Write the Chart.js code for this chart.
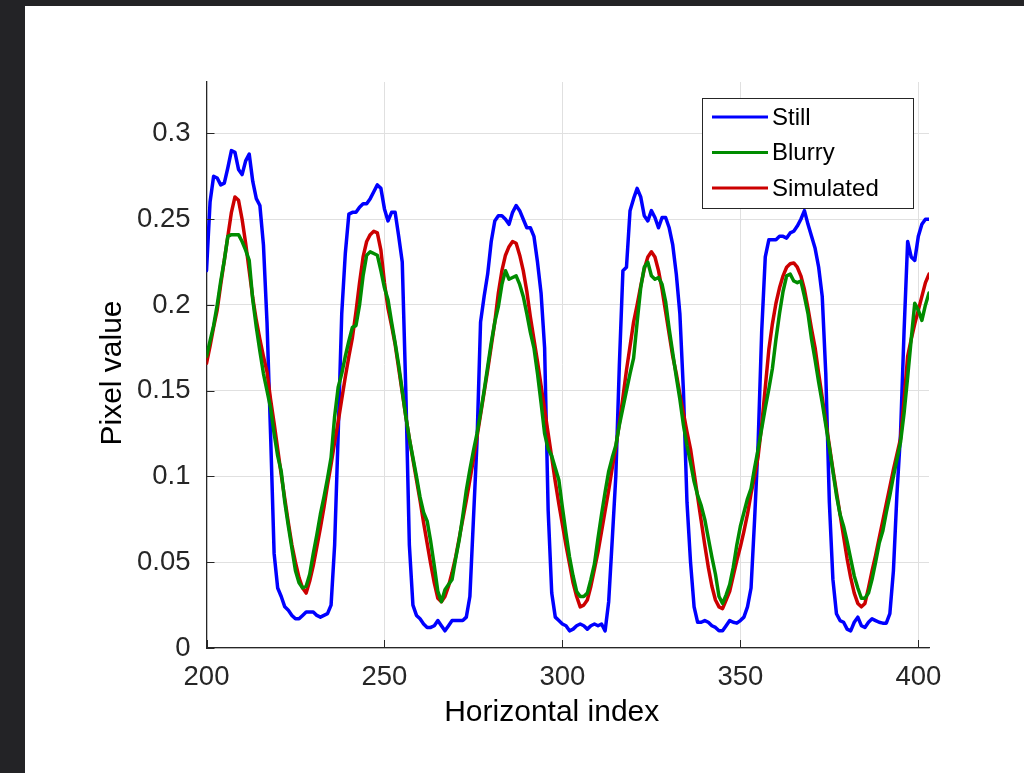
<!DOCTYPE html>
<html>
<head>
<meta charset="utf-8">
<script src="https://cdn.jsdelivr.net/npm/chart.js@4.4.0/dist/chart.umd.min.js"></script>
<style>
  html, body { margin: 0; padding: 0; width: 1024px; height: 773px; overflow: hidden; background: #232326; }
  #sheet { position: absolute; left: 25px; top: 6px; width: 999px; height: 767px; background: #ffffff; }
  canvas { display: block; }
</style>
</head>
<body>
<div id="sheet"><canvas id="profile" width="999" height="767"></canvas></div>
<script>
// Horizontal pixel profile, one sample per column starting at column 200
const xStart = 200;

const still = [
  0.220, 0.260, 0.275, 0.274, 0.270, 0.271, 0.280, 0.290, 0.289, 0.279,
  0.276, 0.284, 0.288, 0.272, 0.262, 0.258, 0.235, 0.190, 0.125, 0.055,
  0.035, 0.030, 0.024, 0.022, 0.019, 0.017, 0.017, 0.019, 0.021, 0.021,
  0.021, 0.019, 0.018, 0.019, 0.020, 0.025, 0.060, 0.125, 0.195, 0.230,
  0.253, 0.254, 0.254, 0.257, 0.259, 0.259, 0.262, 0.266, 0.270, 0.268,
  0.256, 0.249, 0.254, 0.254, 0.240, 0.225, 0.150, 0.060, 0.025, 0.019,
  0.017, 0.014, 0.012, 0.012, 0.013, 0.016, 0.013, 0.010, 0.013, 0.016,
  0.016, 0.016, 0.016, 0.018, 0.030, 0.075, 0.120, 0.190, 0.205, 0.218,
  0.237, 0.249, 0.252, 0.252, 0.250, 0.247, 0.254, 0.258, 0.255, 0.250,
  0.245, 0.245, 0.240, 0.225, 0.207, 0.175, 0.080, 0.032, 0.018, 0.016,
  0.014, 0.013, 0.010, 0.011, 0.013, 0.014, 0.013, 0.011, 0.013, 0.014,
  0.013, 0.014, 0.010, 0.027, 0.063, 0.100, 0.165, 0.220, 0.222, 0.255,
  0.262, 0.268, 0.263, 0.252, 0.249, 0.255, 0.251, 0.245, 0.251, 0.251,
  0.245, 0.235, 0.218, 0.195, 0.150, 0.085, 0.050, 0.024, 0.015, 0.015,
  0.016, 0.015, 0.013, 0.012, 0.010, 0.010, 0.013, 0.016, 0.015, 0.0145,
  0.016, 0.018, 0.024, 0.035, 0.075, 0.120, 0.185, 0.228, 0.238, 0.238,
  0.238, 0.240, 0.240, 0.239, 0.242, 0.243, 0.246, 0.250, 0.255, 0.247,
  0.240, 0.233, 0.222, 0.205, 0.160, 0.085, 0.040, 0.020, 0.016, 0.015,
  0.011, 0.010, 0.015, 0.018, 0.013, 0.012, 0.015, 0.017, 0.016, 0.015,
  0.0145, 0.0145, 0.020, 0.045, 0.090, 0.125, 0.185, 0.237, 0.228, 0.226,
  0.240, 0.247, 0.250, 0.250
];

const blurry = [
  0.170, 0.179, 0.188, 0.200, 0.214, 0.226, 0.240, 0.241, 0.241, 0.241,
  0.237, 0.232, 0.226, 0.203, 0.187, 0.173, 0.160, 0.150, 0.140, 0.125,
  0.112, 0.103, 0.085, 0.071, 0.058, 0.045, 0.038, 0.035, 0.036, 0.043,
  0.055, 0.066, 0.078, 0.088, 0.099, 0.111, 0.135, 0.152, 0.160, 0.170,
  0.179, 0.187, 0.188, 0.200, 0.217, 0.229, 0.231, 0.230, 0.229, 0.220,
  0.210, 0.203, 0.190, 0.178, 0.165, 0.150, 0.135, 0.122, 0.111, 0.100,
  0.088, 0.079, 0.074, 0.062, 0.048, 0.033, 0.027, 0.034, 0.037, 0.040,
  0.052, 0.063, 0.077, 0.092, 0.104, 0.115, 0.125, 0.137, 0.150, 0.164,
  0.178, 0.190, 0.199, 0.212, 0.220, 0.215, 0.216, 0.217, 0.212, 0.205,
  0.195, 0.184, 0.175, 0.160, 0.143, 0.125, 0.116, 0.112, 0.105, 0.098,
  0.082, 0.067, 0.053, 0.042, 0.033, 0.030, 0.030, 0.032, 0.040, 0.049,
  0.064, 0.078, 0.091, 0.103, 0.111, 0.118, 0.130, 0.140, 0.150, 0.160,
  0.169, 0.190, 0.210, 0.222, 0.225, 0.217, 0.215, 0.216, 0.212, 0.202,
  0.186, 0.172, 0.158, 0.145, 0.130, 0.118, 0.108, 0.097, 0.089, 0.083,
  0.075, 0.064, 0.053, 0.043, 0.030, 0.026, 0.031, 0.037, 0.047, 0.060,
  0.071, 0.079, 0.087, 0.093, 0.105, 0.116, 0.128, 0.140, 0.151, 0.163,
  0.180, 0.195, 0.208, 0.217, 0.218, 0.214, 0.213, 0.214, 0.205, 0.195,
  0.180, 0.168, 0.155, 0.143, 0.130, 0.117, 0.103, 0.089, 0.078, 0.071,
  0.062, 0.052, 0.042, 0.035, 0.029, 0.029, 0.032, 0.040, 0.050, 0.061,
  0.068, 0.079, 0.089, 0.100, 0.110, 0.120, 0.137, 0.158, 0.180, 0.201,
  0.197, 0.191, 0.200, 0.207
];

const simulated = [
  0.166, 0.176, 0.187, 0.197, 0.212, 0.226, 0.240, 0.254, 0.263, 0.261,
  0.250, 0.236, 0.220, 0.204, 0.191, 0.180, 0.170, 0.161, 0.145, 0.131,
  0.116, 0.101, 0.087, 0.073, 0.060, 0.050, 0.041, 0.035, 0.032, 0.039,
  0.048, 0.059, 0.070, 0.082, 0.095, 0.107, 0.120, 0.132, 0.145, 0.158,
  0.170, 0.181, 0.196, 0.213, 0.228, 0.237, 0.241, 0.243, 0.242, 0.232,
  0.213, 0.198, 0.188, 0.177, 0.163, 0.149, 0.135, 0.122, 0.110, 0.098,
  0.086, 0.073, 0.061, 0.049, 0.038, 0.029, 0.027, 0.030, 0.036, 0.044,
  0.053, 0.064, 0.075, 0.086, 0.098, 0.110, 0.123, 0.136, 0.149, 0.162,
  0.176, 0.190, 0.207, 0.220, 0.229, 0.234, 0.237, 0.236, 0.229, 0.220,
  0.208, 0.193, 0.180, 0.167, 0.153, 0.139, 0.125, 0.111, 0.097, 0.084,
  0.072, 0.060, 0.049, 0.038, 0.030, 0.024, 0.025, 0.028, 0.036, 0.046,
  0.056, 0.068, 0.080, 0.092, 0.105, 0.117, 0.131, 0.146, 0.162, 0.176,
  0.190, 0.200, 0.211, 0.221, 0.228, 0.231, 0.228, 0.220, 0.209, 0.196,
  0.183, 0.170, 0.160, 0.148, 0.137, 0.126, 0.116, 0.102, 0.088, 0.074,
  0.060, 0.047, 0.036, 0.028, 0.024, 0.023, 0.028, 0.033, 0.042, 0.051,
  0.059, 0.068, 0.078, 0.090, 0.100, 0.112, 0.130, 0.152, 0.174, 0.189,
  0.201, 0.210, 0.217, 0.222, 0.224, 0.2245, 0.222, 0.217, 0.209, 0.198,
  0.186, 0.175, 0.160, 0.146, 0.132, 0.118, 0.104, 0.091, 0.078, 0.065,
  0.052, 0.041, 0.032, 0.026, 0.024, 0.026, 0.035, 0.045, 0.054, 0.064,
  0.074, 0.084, 0.094, 0.104, 0.113, 0.122, 0.145, 0.170, 0.180, 0.189,
  0.197, 0.205, 0.213, 0.218
];

const seriesNames = ['Still', 'Blurry', 'Simulated'];
const seriesColors = ['#0000ff', '#008c00', '#cc0000'];
const xTickValues = [200, 250, 300, 350, 400];
const yTickValues = [0, 0.05, 0.1, 0.15, 0.2, 0.25, 0.3];
const xRange = [200, 403];
const yRange = [0, 0.33];
const xTitle = 'Horizontal index';
const yTitle = 'Pixel value';

const toPoints = arr => arr.map((v, i) => ({ x: xStart + i, y: v }));

const FONT = '"Liberation Sans", Arial, Helvetica, sans-serif';
const AXIS_COLOR = '#262626';

// Small inward tick marks along the left and bottom axes
const inwardTicks = {
  id: 'inwardTicks',
  afterDraw(chart) {
    const { ctx, chartArea: a, scales: { x, y } } = chart;
    ctx.save();
    ctx.strokeStyle = AXIS_COLOR;
    ctx.lineWidth = 1;
    const len = 8;
    x.ticks.forEach(t => {
      const px = Math.round(x.getPixelForValue(t.value)) + 0.5;
      ctx.beginPath(); ctx.moveTo(px, a.bottom); ctx.lineTo(px, a.bottom - len); ctx.stroke();
    });
    y.ticks.forEach(t => {
      const py = Math.round(y.getPixelForValue(t.value)) + 0.5;
      ctx.beginPath(); ctx.moveTo(a.left, py); ctx.lineTo(a.left + len, py); ctx.stroke();
    });
    ctx.restore();
  }
};

// Axis titles, placed relative to the plot area
const axisTitles = {
  id: 'axisTitles',
  afterDraw(chart) {
    const { ctx, chartArea: a } = chart;
    ctx.save();
    ctx.fillStyle = '#000000';
    ctx.font = '30px ' + FONT;
    ctx.textAlign = 'center';
    ctx.textBaseline = 'middle';
    ctx.fillText(xTitle, (a.left + a.right) / 2 - 16, a.bottom + 65);
    ctx.translate(88, (a.top + a.bottom) / 2 + 8);
    ctx.rotate(-Math.PI / 2);
    ctx.fillText(yTitle, 0, 0);
    ctx.restore();
  }
};

// Boxed legend in the upper right corner of the plot
const boxedLegend = {
  id: 'boxedLegend',
  afterDraw(chart) {
    const { ctx, chartArea: a } = chart;
    const w = 211, h = 110;
    const bx = a.right - 16 - w, by = a.top + 16;
    ctx.save();
    ctx.fillStyle = '#ffffff';
    ctx.fillRect(bx, by, w, h);
    ctx.strokeStyle = AXIS_COLOR;
    ctx.lineWidth = 1;
    ctx.strokeRect(Math.round(bx) + 0.5, Math.round(by) + 0.5, w, h);
    ctx.font = '24px ' + FONT;
    ctx.textBaseline = 'middle';
    ctx.textAlign = 'left';
    seriesNames.forEach((name, i) => {
      const ry = by + 19 + i * 35.5;
      ctx.strokeStyle = seriesColors[i];
      ctx.lineWidth = 3;
      ctx.beginPath(); ctx.moveTo(bx + 10, ry); ctx.lineTo(bx + 66, ry); ctx.stroke();
      ctx.fillStyle = '#000000';
      ctx.fillText(name, bx + 70, ry + 1);
    });
    ctx.restore();
  }
};

const drawOrder = [2, 0, 1]; // blurry on top, then simulated, still underneath
const allSeries = [still, blurry, simulated];

new Chart(document.getElementById('profile'), {
  type: 'line',
  data: {
    datasets: allSeries.map((arr, i) => ({
      label: seriesNames[i],
      data: toPoints(arr),
      borderColor: seriesColors[i],
      backgroundColor: seriesColors[i],
      borderWidth: 3.5,
      pointRadius: 0,
      tension: 0,
      fill: false,
      borderJoinStyle: 'round',
      borderCapStyle: 'round',
      order: drawOrder[i]
    }))
  },
  options: {
    responsive: false,
    animation: false,
    devicePixelRatio: 1,
    layout: { padding: { left: 0, top: 76, right: 95, bottom: 0 } },
    plugins: { legend: { display: false }, tooltip: { enabled: false } },
    scales: {
      x: {
        type: 'linear',
        min: xRange[0],
        max: xRange[1],
        afterFit: s => { s.height = 125; },
        afterBuildTicks: s => { s.ticks = xTickValues.map(v => ({ value: v })); },
        ticks: {
          includeBounds: false,
          padding: 13,
          color: AXIS_COLOR,
          font: { family: FONT, size: 27.5 },
          maxRotation: 0,
          callback: v => String(v)
        },
        grid: { color: '#e0e0e0', lineWidth: 1, drawTicks: false },
        border: { display: true, color: AXIS_COLOR, width: 1.3 }
      },
      y: {
        type: 'linear',
        min: yRange[0],
        max: yRange[1],
        afterFit: s => { s.width = 181.5; },
        afterBuildTicks: s => { s.ticks = yTickValues.map(v => ({ value: v })); },
        ticks: {
          includeBounds: false,
          padding: 16,
          color: AXIS_COLOR,
          font: { family: FONT, size: 27.5 },
          callback: v => String(Number(v.toFixed(2)))
        },
        grid: { color: '#e0e0e0', lineWidth: 1, drawTicks: false },
        border: { display: true, color: AXIS_COLOR, width: 1.3 }
      }
    }
  },
  plugins: [inwardTicks, axisTitles, boxedLegend]
});
</script>
</body>
</html>
